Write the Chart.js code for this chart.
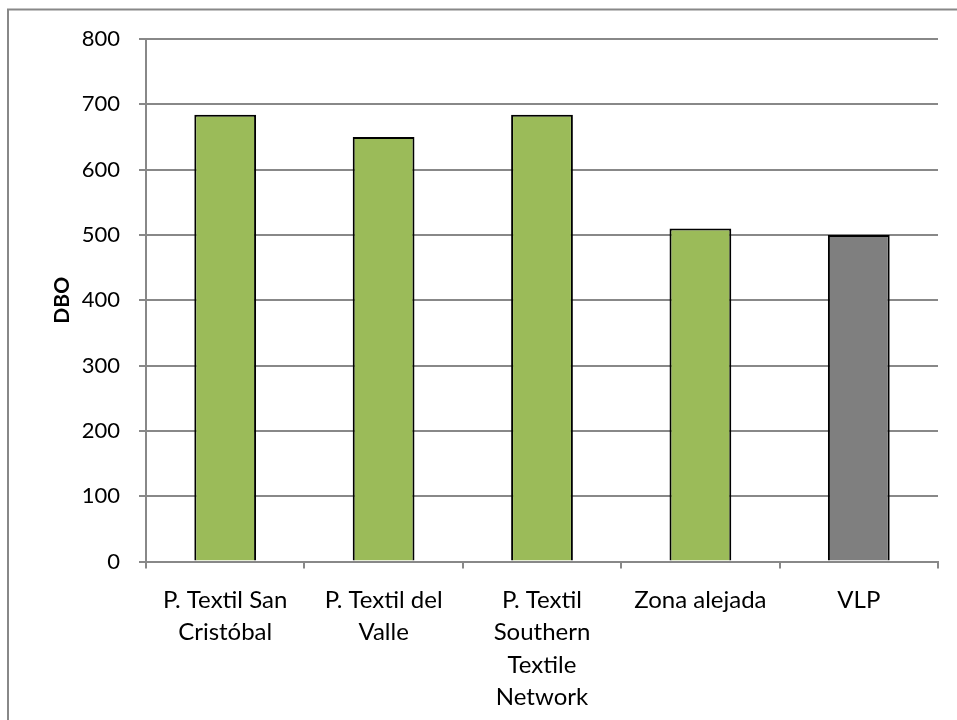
<!DOCTYPE html>
<html>
<head>
<meta charset="utf-8">
<script src="https://cdn.jsdelivr.net/npm/chart.js@4"></script>
<style>
  html, body { margin: 0; padding: 0; background: #fff; }
  #wrap { width: 957px; height: 720px; }
</style>
</head>
<body>
<div id="wrap"><canvas id="dboChart" width="957" height="720"></canvas></div>
<script>
const labels = [
  ["P. Textil San", "Cristóbal"],
  ["P. Textil del", "Valle"],
  ["P. Textil", "Southern", "Textile", "Network"],
  "Zona alejada",
  "VLP"
];
const dboValues = [684, 650, 684, 510, 500];
const barColors = ["#9BBB59", "#9BBB59", "#9BBB59", "#9BBB59", "#7F7F7F"];
const yTicks = [0, 100, 200, 300, 400, 500, 600, 700, 800];

const gridGray = '#888888';
const font = 'Lato, "Open Sans", sans-serif';

// outer frame (only top and left edges are visible in the picture)
const frame = {
  id: 'frame',
  beforeDraw(chart) {
    const c = chart.ctx;
    c.save();
    c.fillStyle = '#fff';
    c.fillRect(0, 0, chart.width, chart.height);
    c.strokeStyle = gridGray;
    c.lineWidth = 2;
    c.beginPath();
    c.moveTo(8, chart.height);
    c.lineTo(8, 9.5);
    c.lineTo(chart.width, 9.5);
    c.stroke();
    c.restore();
  }
};

const ctx = document.getElementById('dboChart').getContext('2d');

new Chart(ctx, {
  type: 'bar',
  data: {
    labels: labels,
    datasets: [{
      label: 'DBO',
      data: dboValues,
      backgroundColor: barColors,
      borderColor: '#000',
      borderWidth: 2,
      barPercentage: 0.39,
      categoryPercentage: 1
    }]
  },
  options: {
    responsive: false,
    animation: false,
    layout: { padding: { left: 50, right: 19, top: 39, bottom: 0 } },
    plugins: {
      legend: { display: false },
      tooltip: { enabled: false }
    },
    scales: {
      x: {
        offset: true,
        grid: {
          offset: true,
          drawOnChartArea: false,
          drawTicks: true,
          tickLength: 7,
          color: gridGray,
          lineWidth: 2
        },
        border: { color: gridGray, width: 2 },
        ticks: {
          maxRotation: 0,
          autoSkip: false,
          padding: 15,
          color: '#000',
          font: { family: font, size: 24, lineHeight: 1.36 }
        },
        afterFit: s => { s.height = 720 - 561.5; }
      },
      y: {
        min: 0,
        max: 800,
        afterBuildTicks: s => { s.ticks = yTicks.map(v => ({ value: v })); },
        grid: {
          color: gridGray,
          lineWidth: 2,
          tickLength: 7
        },
        border: { color: gridGray, width: 2 },
        ticks: {
          padding: 19,
          color: '#000',
          font: { family: font, size: 22 }
        },
        title: {
          display: true,
          text: 'DBO',
          color: '#000',
          padding: 0,
          font: { family: font, size: 21, weight: 'bold' }
        },
        afterFit: s => { s.width = 146 - 50; }
      }
    }
  },
  plugins: [frame]
});
</script>
</body>
</html>
